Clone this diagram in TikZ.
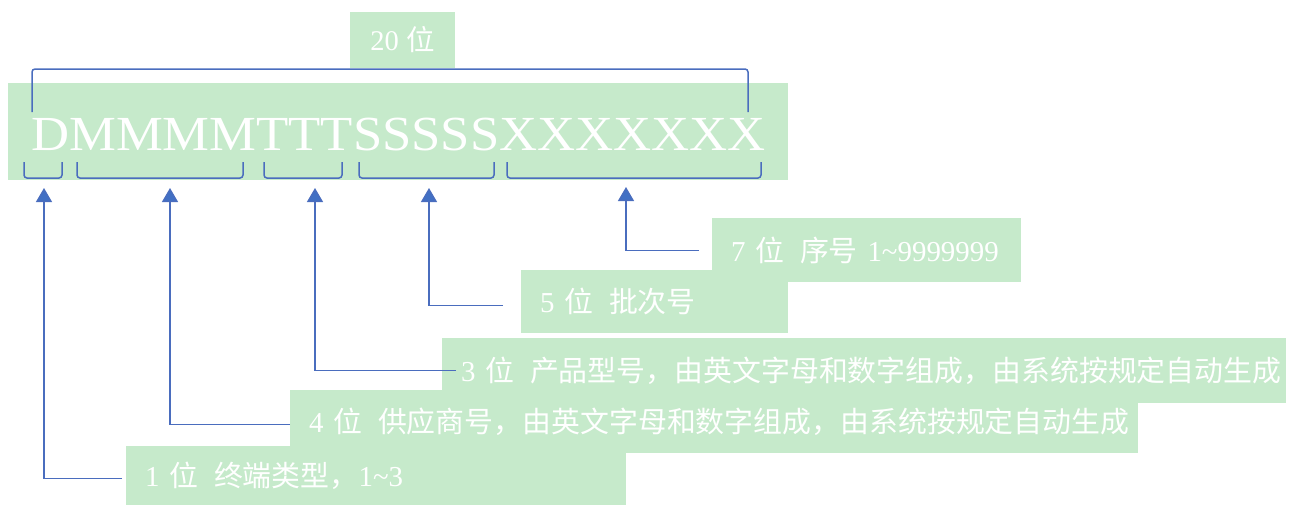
\documentclass[tikz,border=0pt]{standalone}
\usepackage{fontspec}
\setmainfont{Liberation Serif}
\newfontfamily\cjk{Noto Sans CJK SC}
\usetikzlibrary{arrows.meta}
\definecolor{lg}{HTML}{C6EACB}
\definecolor{bl}{HTML}{4A6DBE}
\definecolor{ah}{HTML}{4170C4}
\begin{document}
\begin{tikzpicture}[x=1pt,y=-1pt,
  lbl/.style={fill=lg, text=white, inner xsep=19pt, inner ysep=0pt, align=left,
    font=\fontsize{28.9}{30}\selectfont, anchor=north west},
  brk/.style={draw=bl, line width=1.5pt, rounded corners=3pt},
  arr/.style={draw=bl, line width=1.3pt, -{Triangle[length=14pt,width=16pt,fill=ah]}},
]
\useasboundingbox (0,0) rectangle (1290,504);
% main band
\node[fill=lg, minimum width=780pt, minimum height=97pt, inner sep=0pt, anchor=north west] (band) at (8,83) {};
\node[fill=lg, minimum width=105pt, minimum height=56pt, inner sep=0pt, text=white,
  font=\fontsize{28.5}{30}\selectfont] (n20) at (402.5,40) {20 {\cjk 位}};
\node[text=white, anchor=base west, inner sep=0pt, font=\fontsize{49}{56}\selectfont] (code) at (31,150) {\scalebox{1.075}[1]{DMMMMTTTSSSSSXXXXXXX}};
% brackets
\draw[brk] (32,112) -- (32,69) -- (748,69) -- (748,112);
\draw[brk] (24,162) -- (24,178) -- (62,178) -- (62,162);
\draw[brk] (77,162) -- (77,178) -- (243,178) -- (243,162);
\draw[brk] (264,162) -- (264,178) -- (342,178) -- (342,162);
\draw[brk] (359,162) -- (359,178) -- (494,178) -- (494,162);
\draw[brk] (507,162) -- (507,178) -- (761,178) -- (761,162);
\coordinate (t1) at (44,188);
\coordinate (t2) at (170,188);
\coordinate (t3) at (315,188);
\coordinate (t4) at (429,188);
\coordinate (t5) at (626,187);
% label boxes
\node[lbl, text width=271pt, minimum height=64pt] (b7) at (712,218) {7 {\cjk 位}\hspace{0.55em}{\cjk 序号} 1\textasciitilde 9999999};
\node[lbl, text width=229pt, minimum height=63pt] (b5) at (521,270) {5 {\cjk 位}\hspace{0.55em}{\cjk 批次号}};
\node[lbl, text width=806pt, minimum height=65pt] (b3) at (442,338) {3 {\cjk 位}\hspace{0.55em}{\cjk 产品型号，由英文字母和数字组成，由系统按规定自动生成}};
\node[lbl, text width=810pt, minimum height=63pt] (b4) at (290,390) {4 {\cjk 位}\hspace{0.55em}{\cjk 供应商号，由英文字母和数字组成，由系统按规定自动生成}};
\node[lbl, text width=462pt, minimum height=60pt] (b1) at (126,446) {1 {\cjk 位}\hspace{0.55em}{\cjk 终端类型，}1\textasciitilde 3};
% connectors
\draw[arr] ([xshift=-4pt,yshift=-2pt]b1.west) -| (t1);
\draw[arr] ([yshift=-3pt]b4.west) -| (t2);
\draw[arr] ([xshift=14pt]b3.west) -| (t3);
\draw[arr] ([xshift=-18pt,yshift=-4pt]b5.west) -| (t4);
\draw[arr] ([xshift=-13pt]b7.west) -| (t5);
\end{tikzpicture}
\end{document}
